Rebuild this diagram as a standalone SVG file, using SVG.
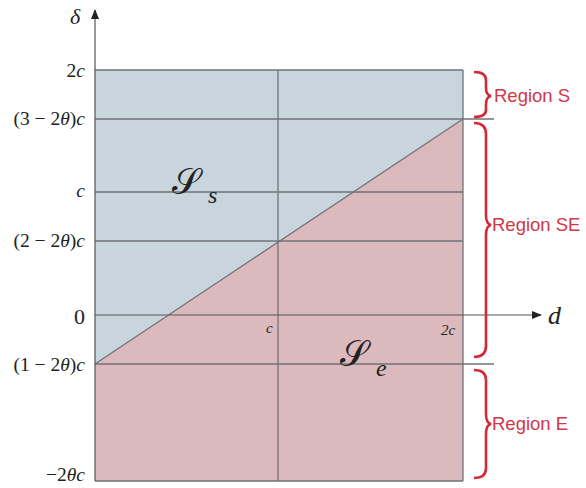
<svg xmlns="http://www.w3.org/2000/svg" width="586" height="488" viewBox="0 0 586 488">
<style>
.grid{stroke:#6e7378;stroke-width:1.3;fill:none}
.ax{stroke:#555;stroke-width:1.2;fill:none}
.lab{font-family:"Liberation Serif","DejaVu Serif",serif;font-size:19.5px;fill:#222}
.it{font-style:italic}
.tick{font-family:"Liberation Serif","DejaVu Serif",serif;font-style:italic;font-size:15px;fill:#222}
.reg{font-family:"Liberation Sans",Arial,sans-serif;font-size:18.5px;fill:#d03848}
.brace{stroke:#d42a34;stroke-width:2.6;fill:none}
.scr{font-family:"DejaVu Serif","Noto Sans",serif;font-size:36px;fill:#222}
.sub{font-family:"Liberation Serif",serif;font-style:italic;font-size:24px;fill:#222}
</style>
<defs>
<marker id="ah" markerWidth="10" markerHeight="8" refX="9" refY="4" orient="auto" markerUnits="userSpaceOnUse">
<path d="M0,0 L10,4 L0,8 Z" fill="#222"/>
</marker>
</defs>
<g id="regions">
<polygon points="95,70 463,70 463,119 95,364" fill="#c9d5dc"/>
<polygon points="463,119 463,481 95,481 95,364" fill="#dcb9bd"/>
</g>
<g id="connectors">
<line class="grid" x1="95" y1="70" x2="463" y2="70"/>
<line class="grid" x1="95" y1="119" x2="494" y2="119"/>
<line class="grid" x1="95" y1="192" x2="463" y2="192"/>
<line class="grid" x1="95" y1="241" x2="463" y2="241"/>
<line class="grid" x1="95" y1="364" x2="494" y2="364"/>
<line class="grid" x1="95" y1="481" x2="463" y2="481"/>
<line class="grid" x1="278" y1="70" x2="278" y2="481"/>
<line class="grid" x1="463" y1="70" x2="463" y2="481"/>
<line class="grid" x1="95" y1="364" x2="463" y2="119"/>
<line class="ax" x1="95" y1="481" x2="95" y2="10" marker-end="url(#ah)"/>
<line class="ax" x1="95" y1="315" x2="541" y2="315" marker-end="url(#ah)"/>
</g>
<g id="braces">
<path class="brace" d="M474,72 Q486,72 486,80 L486,88 Q486,95 491,96 Q486,97 486,104 L486,110 Q486,117 474,117"/>
<path class="brace" d="M474,123 Q486,123 486,134 L486,215 Q486,224 491,225 Q486,226 486,235 L486,346 Q486,357 474,357"/>
<path class="brace" d="M474,370 Q486,370 486,380 L486,414 Q486,423 491,424 Q486,425 486,434 L486,468 Q486,478 474,478"/>
</g>
<g id="axis-labels">
<text class="lab it" x="70" y="24" style="font-size:22px">δ</text>
<text class="lab it" x="548" y="324" style="font-size:26px">d</text>
<text class="lab" x="85" y="77" text-anchor="end">2<tspan class="it">c</tspan></text>
<text class="lab" x="85" y="125" text-anchor="end">(3 − 2<tspan class="it">θ</tspan>)<tspan class="it">c</tspan></text>
<text class="lab it" x="85" y="197" text-anchor="end">c</text>
<text class="lab" x="85" y="247" text-anchor="end">(2 − 2<tspan class="it">θ</tspan>)<tspan class="it">c</tspan></text>
<text class="lab" x="85" y="324" text-anchor="end" style="font-size:22px">0</text>
<text class="lab" x="85" y="371" text-anchor="end">(1 − 2<tspan class="it">θ</tspan>)<tspan class="it">c</tspan></text>
<text class="lab" x="85" y="481" text-anchor="end">−2<tspan class="it">θc</tspan></text>
<text class="tick" x="266" y="333">c</text>
<text class="tick" x="441" y="335">2c</text>
</g>
<g id="set-s">
<text class="scr" x="172" y="194">𝒮</text>
<text class="sub" x="208" y="203">s</text>
</g>
<g id="set-e">
<text class="scr" x="340" y="366">𝒮</text>
<text class="sub" x="376" y="376">e</text>
</g>
<g id="region-labels">
<text class="reg" x="494" y="102">Region S</text>
<text class="reg" x="492" y="231">Region SE</text>
<text class="reg" x="492" y="430">Region E</text>
</g>
</svg>
